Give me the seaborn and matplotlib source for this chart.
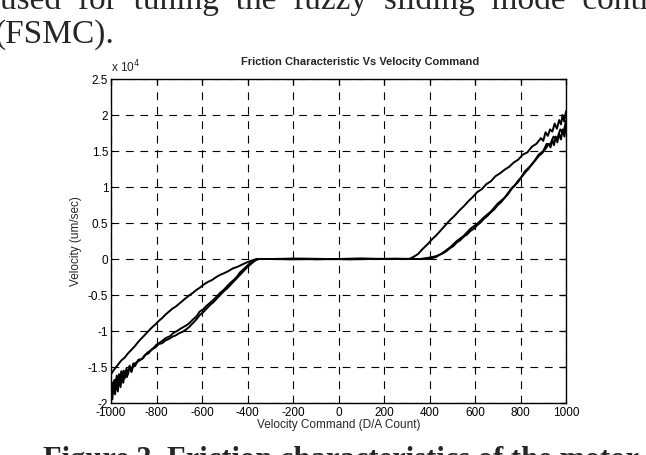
import matplotlib
matplotlib.use("Agg")
import matplotlib.pyplot as plt
import seaborn as sns
import pandas as pd
import numpy as np
from matplotlib.ticker import FuncFormatter

# ---------------- data (velocity in units of 1e4 um/sec) ----------------
# trace 1: lower-left branch -> flat stiction zone -> upper-right branch
cmd1 = [-1000, -995, -990, -985, -980, -975, -970, -965, -960, -955, -950, -945,
        -940, -932, -925, -918, -910, -902, -895, -880, -865, -850, -835,
        -820, -805, -790, -775, -760, -745, -730, -715, -700, -685, -670, -655,
        -640, -625, -610, -595, -580, -565, -550, -535, -520, -505, -490, -475,
        -460, -445, -430, -415, -400, -385, -370, -355,
        -300, -200, -100, 0, 100, 200, 300,
        311, 330, 350, 370, 390, 410, 430, 450, 470, 490, 510, 530, 550, 570,
        590, 610, 630, 650, 670, 690, 710, 730, 750, 770, 790, 810, 830, 850,
        870, 890, 900, 910, 920, 930, 940, 950, 960, 970, 978, 985, 992, 1000]
vel1 = [-1.92, -1.72, -1.86, -1.68, -1.82, -1.62, -1.78, -1.60, -1.72, -1.56,
        -1.68, -1.55, -1.66, -1.52, -1.60, -1.48, -1.57, -1.45, -1.49, -1.40,
        -1.39, -1.33, -1.31, -1.25, -1.23, -1.18, -1.17, -1.13, -1.11, -1.08,
        -1.06, -1.03, -1.01, -0.98, -0.94, -0.89, -0.84, -0.78, -0.74, -0.69,
        -0.64, -0.60, -0.55, -0.50, -0.45, -0.41, -0.36, -0.31, -0.26, -0.21,
        -0.16, -0.11, -0.07, -0.03, 0.00,
        0.00, 0.005, -0.005, 0.00, 0.005, 0.00, 0.00,
        0.00, 0.03, 0.07, 0.14, 0.20, 0.27, 0.33, 0.40, 0.47, 0.54, 0.60, 0.67,
        0.73, 0.80, 0.86, 0.93, 0.97, 1.04, 1.08, 1.15, 1.19, 1.24, 1.28, 1.34,
        1.38, 1.45, 1.48, 1.56, 1.60, 1.68, 1.64, 1.76, 1.71, 1.80, 1.77, 1.88,
        1.81, 1.93, 1.87, 2.00, 1.91, 2.05]

# trace 2: lower-right branch -> flat zone -> upper-left branch
cmd2 = [1000, 993, 985, 978, 970, 962, 955, 947, 940, 932, 925, 910, 895, 880,
        865, 850, 835, 820, 805,
        790, 775, 760, 745, 730, 715, 700, 685, 670, 655, 640, 625, 610, 595,
        580, 565, 550, 535, 520, 505, 490, 475, 460, 445, 430, 415, 400, 380,
        360, 300, 200, 100, 0, -100, -200, -300,
        -361, -380, -405, -425, -445, -464, -485, -505, -520, -537, -555, -575,
        -595, -610, -625, -640, -654, -670, -685, -700, -715, -730, -745, -760,
        -775, -790, -805, -820, -835, -850, -865, -880, -895, -910, -925, -940,
        -955, -970, -985, -1000]
vel2 = [1.84, 1.70, 1.80, 1.66, 1.74, 1.62, 1.70, 1.58, 1.66, 1.55, 1.60, 1.53,
        1.47, 1.43, 1.37, 1.32, 1.25, 1.20, 1.14,
        1.09, 1.02, 0.97, 0.90, 0.85, 0.79, 0.75, 0.69, 0.65, 0.60, 0.56, 0.51,
        0.47, 0.42, 0.39, 0.34, 0.31, 0.26, 0.23, 0.18, 0.15, 0.11,
        0.08, 0.06, 0.04, 0.03, 0.02, 0.01,
        0.00, 0.00, 0.00, 0.005, 0.00, 0.00, -0.005, 0.00,
        0.00, -0.02, -0.05, -0.08, -0.11, -0.13, -0.17, -0.20, -0.22, -0.25,
        -0.29, -0.32, -0.36, -0.40, -0.43, -0.47, -0.50, -0.54, -0.58, -0.62,
        -0.66, -0.69, -0.73, -0.77, -0.82, -0.86, -0.91, -0.95, -1.00, -1.05,
        -1.10, -1.15, -1.21, -1.26, -1.31, -1.37, -1.41, -1.47, -1.53, -1.60]

# trace 3: second lower-left sweep -> flat zone -> second lower-right sweep
cmd3 = [-1000, -994, -988, -982, -976, -970, -964, -958, -952, -946, -940, -930,
        -920, -910, -900, -880, -860, -840, -820, -800, -780,
        -760, -740, -727, -710, -690, -668, -655, -640, -625, -610, -595, -580,
        -565, -551, -535, -520, -505, -493, -475, -460, -445, -434, -420, -410,
        -390, -370, -350,
        -250, -150, -50, 50, 150, 250, 350,
        400, 430, 460, 490, 520, 550, 580, 610, 640, 670, 700, 730, 760, 790,
        820, 850, 880, 900, 915, 930, 945, 960, 975, 988, 1000]
vel3 = [-1.74, -1.95, -1.70, -1.88, -1.66, -1.84, -1.62, -1.78, -1.60, -1.72,
        -1.56, -1.64, -1.50, -1.56, -1.46, -1.42, -1.38, -1.30, -1.26,
        -1.19, -1.15, -1.10, -1.07, -1.03, -1.00, -0.96, -0.92, -0.89, -0.84,
        -0.80, -0.73, -0.70, -0.65, -0.61, -0.57, -0.52, -0.47, -0.43, -0.39,
        -0.33, -0.29, -0.24, -0.19, -0.15, -0.12, -0.06, -0.02, 0.00,
        0.00, 0.005, 0.00, -0.005, 0.00, 0.005, 0.00,
        0.00, 0.03, 0.09, 0.16, 0.25, 0.32, 0.42, 0.49, 0.58, 0.66, 0.77, 0.85,
        0.98, 1.07, 1.22, 1.31, 1.45, 1.50, 1.60, 1.58, 1.70, 1.66, 1.80, 1.74,
        1.92]

x_ticks = [-1000, -800, -600, -400, -200, 0, 200, 400, 600, 800, 1000]
y_ticks = [-2, -1.5, -1, -0.5, 0, 0.5, 1, 1.5, 2, 2.5]

# ---------------- build long table ----------------
frames = []
for name, c, v in (("t1", cmd1, vel1), ("t2", cmd2, vel2), ("t3", cmd3, vel3)):
    frames.append(pd.DataFrame({"cmd": c, "vel": np.array(v) * 1e4,
                                "trace": name}))
df = pd.concat(frames, ignore_index=True)

sns.set_style("white")
plt.rcParams["font.family"] = ["Liberation Sans", "DejaVu Sans"]

fig = plt.figure(figsize=(6.46, 4.55), dpi=100)
ax = fig.add_axes([111 / 646, 1 - 403 / 455, (566 - 111) / 646, (403 - 79) / 455])

sns.lineplot(data=df, x="cmd", y="vel", units="trace", estimator=None,
             sort=False, color="black", linewidth=1.4, ax=ax, legend=False)

ax.set_xlim(-1000, 1000)
ax.set_ylim(-2e4, 2.5e4)
ax.set_xticks(x_ticks)
ax.set_yticks([t * 1e4 for t in y_ticks])
ax.xaxis.set_major_formatter(FuncFormatter(lambda v, p: "%d" % v))
ax.yaxis.set_major_formatter(FuncFormatter(lambda v, p: "%g" % (v / 1e4)))
ax.grid(True, color="black", linestyle=(0, (7, 6)), linewidth=0.8)
ax.tick_params(direction="in", length=4, width=0.9, top=True, right=True,
               labelsize=8.5, colors="black")
ax.tick_params(axis="x", pad=3)
ax.tick_params(axis="y", pad=2)
for s in ax.spines.values():
    s.set_color("black")
    s.set_linewidth(1.0)
ax.set_xlabel("Velocity Command (D/A Count)", fontsize=8.5, labelpad=0)
ax.set_ylabel("Velocity (um/sec)", fontsize=8.5, labelpad=4)
ax.text(0.0, 1.012, r"x 10$^4$", transform=ax.transAxes, fontsize=8.5,
        ha="left", va="bottom")

fig.text(360 / 646, 1 - 62 / 455, "Friction Characteristic Vs Velocity Command",
         fontsize=8, fontweight="bold", ha="center", va="center")

# surrounding scanned document text
fig.text(0.0, 1 - 9 / 455, "used  for  tuning  the  fuzzy  sliding  mode  control",
         fontsize=24, family="Liberation Serif", ha="left", va="baseline")
fig.text(-0.008, 1 - 43 / 455, "(FSMC).", fontsize=24, family="Liberation Serif",
         ha="left", va="baseline")
fig.text(43 / 646, 1 - 468 / 455, "Figure 3. Friction characteristics of the motor",
         fontsize=22, family="Liberation Serif", fontweight="bold",
         ha="left", va="baseline")

fig.savefig("out.png", dpi=100)
